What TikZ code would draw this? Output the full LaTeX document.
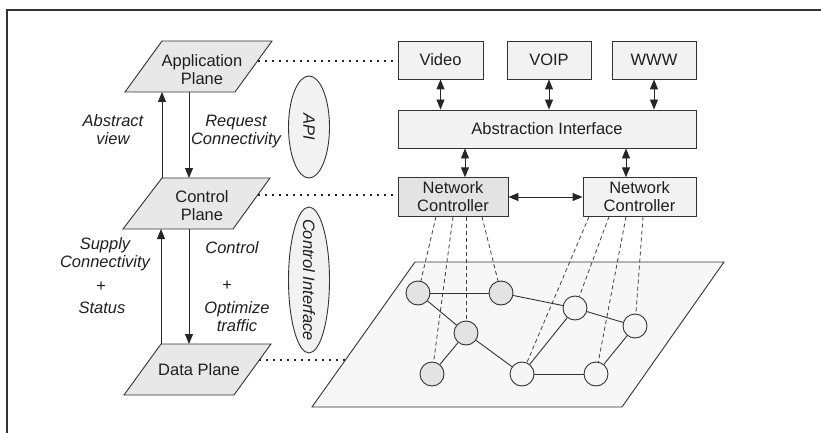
\documentclass[tikz,border=0pt]{standalone}
\usepackage{fontspec}
\setmainfont{Liberation Sans}
\usetikzlibrary{shapes.geometric,arrows.meta}
\begin{document}
\begin{tikzpicture}[x=1pt,y=-1pt,
  line width=0.9pt,
  every node/.style={font=\fontsize{16.5}{18}\selectfont, align=center, inner sep=0pt, text=black!88},
  plane/.style={draw=black!80, fill=black!9, line width=0.9pt},
  box/.style={draw=black!80, fill=black!5, line width=0.9pt, minimum height=38pt},
  arr/.style={draw=black!85, line width=0.9pt, -{Triangle[length=10pt,width=8pt]}},
  darr/.style={draw=black!85, line width=0.9pt, {Triangle[length=10pt,width=8pt]}-{Triangle[length=10pt,width=8pt]}},
  dotline/.style={draw=black!85, line width=2pt, dash pattern=on 2pt off 5pt},
  dashline/.style={draw=black!75, line width=0.8pt, dash pattern=on 4pt off 3pt},
  lbl/.style={font=\fontsize{16.5}{18}\selectfont\itshape},
  nd/.style={circle, draw=black!80, minimum size=24pt, line width=0.9pt},
  gnd/.style={nd, fill=black!11},
  wnd/.style={nd, fill=black!4},
  oval/.style={ellipse, draw=black!80, fill=black!5, line width=0.9pt}
]
\useasboundingbox (0,0) rectangle (821,433);
\draw[black!80, line width=1.3pt] (821,10) -- (7,10) -- (7,433);

% planes
\filldraw[plane] (162,41) -- (272,41) -- (235,92) -- (125,92) -- cycle;
\node (app) at (202,70) {Application\\Plane};
\filldraw[plane] (162,178) -- (270,178) -- (233,229) -- (123,229) -- cycle;
\node (ctrl) at (202,206) {Control\\Plane};
\filldraw[plane] (161,344) -- (271,344) -- (234,395) -- (124,395) -- cycle;
\node (data) at (199,370) {Data Plane};

\coordinate (appB1) at (162,92);
\coordinate (appB2) at (189,92);
\coordinate (ctrlT1) at (162,178);
\coordinate (ctrlT2) at (189,178);
\coordinate (ctrlB1) at (161,229);
\coordinate (ctrlB2) at (189,229);
\coordinate (dataT1) at (161,344);
\coordinate (dataT2) at (189,344);
\draw[arr] (ctrlT1) -- (appB1);
\draw[arr] (appB2) -- (ctrlT2);
\draw[arr] (dataT1) -- (ctrlB1);
\draw[arr] (ctrlB2) -- (dataT2);

% labels
\node[lbl] (absv) at (113,130) {Abstract\\view};
\node[lbl] (reqc) at (236,132) {Request\\Connectivity};
\node[lbl] (supc) at (105,254) {Supply\\Connectivity};
\node[lbl] (plus1) at (101,287) {+};
\node[lbl] (stat) at (102,308) {Status};
\node[lbl] (ctl) at (232,248) {Control};
\node[lbl] (plus2) at (227,286) {+};
\node[lbl] (opt) at (237,317) {Optimize\\traffic};

% ovals
\node[oval, minimum width=41pt, minimum height=102pt] (api) at (309,127) {};
\node[lbl, rotate=-90] (apit) at (api) {API};
\node[oval, minimum width=41pt, minimum height=146pt] (ci) at (309,280) {};
\node[lbl, rotate=-90] (cit) at (ci) {Control Interface};

% boxes
\node[box, minimum width=85pt] (video) at (440.5,60) {Video};
\node[box, minimum width=84pt] (voip) at (549,60) {VOIP};
\node[box, minimum width=84pt] (www) at (654,60) {WWW};
\node[box, minimum width=298pt] (absi) at (547,129) {Abstraction Interface};
\node[box, fill=black!11, minimum width=110pt, minimum height=38.5pt] (nc1) at (453,197) {Network\\Controller};
\node[box, minimum width=113pt, minimum height=38.5pt] (nc2) at (639.5,197) {Network\\Controller};

\draw[darr] (video.south) -- (video.south |- absi.north);
\draw[darr] (voip.south) -- (voip.south |- absi.north);
\draw[darr] (www.south) -- (www.south |- absi.north);
\draw[darr] (465,0 |- absi.south) -- (465,0 |- nc1.north);
\draw[darr] (626,0 |- absi.south) -- (626,0 |- nc2.north);
\draw[darr] (nc1.east) -- (nc2.west);

% dotted links
\coordinate (appR) at (257.5,61);
\coordinate (ctrlR) at (257.7,195);
\coordinate (dataR) at (259.4,360);
\coordinate (netL) at (345,360);
\draw[dotline] (appR) -- (appR -| video.west);
\draw[dotline] (ctrlR) -- (ctrlR -| nc1.west);
\draw[dotline] (dataR) -- (netL);

% network plane
\filldraw[draw=black!80, fill=black!3, line width=0.9pt] (415,262) -- (724,262) -- (622,407) -- (312,407) -- cycle;

\node[gnd] (n1) at (418,293) {};
\node[gnd] (n2) at (501,293) {};
\node[gnd] (n3) at (466,333) {};
\node[gnd] (n4) at (432,374) {};
\node[wnd] (n5) at (575,308) {};
\node[wnd] (n6) at (635,326) {};
\node[wnd] (n7) at (522,374) {};
\node[wnd] (n8) at (596,374) {};

\draw[black!80] (n1) -- (n2);
\draw[black!80] (n1) -- (n3);
\draw[black!80] (n2) -- (n5);
\draw[black!80] (n3) -- (n4);
\draw[black!80] (n3) -- (n7);
\draw[black!80] (n5) -- (n6);
\draw[black!80] (n5) -- (n7);
\draw[black!80] (n7) -- (n8);
\draw[black!80] (n8) -- (n6);

\draw[dashline] (436,0 |- nc1.south) -- (n1);
\draw[dashline] (453,0 |- nc1.south) -- (n4);
\draw[dashline] (466,0 |- nc1.south) -- (n3);
\draw[dashline] (482,0 |- nc1.south) -- (n2);
\draw[dashline] (589,0 |- nc2.south) -- (n7);
\draw[dashline] (609,0 |- nc2.south) -- (n5);
\draw[dashline] (626,0 |- nc2.south) -- (n8);
\draw[dashline] (643,0 |- nc2.south) -- (n6);
\end{tikzpicture}
\end{document}
